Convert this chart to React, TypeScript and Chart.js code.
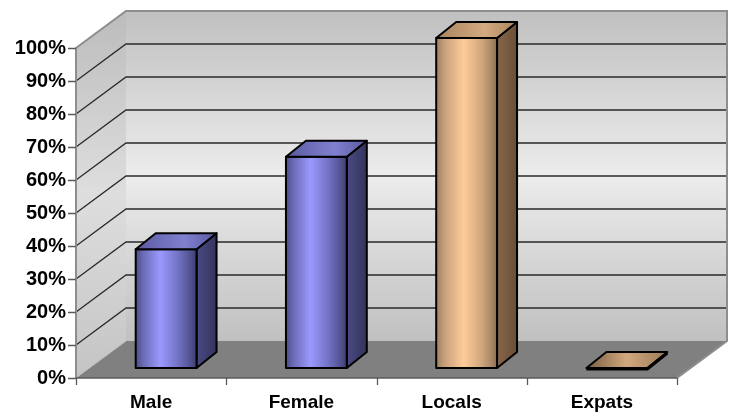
import React, { useEffect, useRef } from "react";
import { Chart, registerables } from "chart.js";

Chart.register(...registerables);

const categories = ["Male", "Female", "Locals", "Expats"];
const values = [36, 64, 100, 0];
const yTickValues = [0, 10, 20, 30, 40, 50, 60, 70, 80, 90, 100];

// styling (not data)
const themes = ["blue", "blue", "tan", "tan"];
const DEPTH = { x: 50, y: -37 };
const BAR_OFF = { x: 15, y: -10 };
const BAR_DEPTH = { x: 20, y: -16 };
const YFONT = { family: "'Liberation Sans', Arial, sans-serif", size: 20, weight: "bold" as const };
const XFONT = { family: "'Liberation Sans', Arial, sans-serif", size: 19, weight: "bold" as const };

const palettes: Record<string, any> = {
  blue: {
    front: [[0, "#4c4c88"], [0.12, "#6a6ab4"], [0.4, "#9a9aff"], [0.7, "#7272c4"], [0.92, "#4e4e8c"], [1, "#3c3c6c"]],
    side: ["#4a4a84", "#34345c"],
    top: ["#5a5aa0", "#8080d0"],
  },
  tan: {
    front: [[0, "#a08060"], [0.15, "#c9a27c"], [0.45, "#ffcc99"], [0.75, "#d0a67c"], [0.92, "#a68464"], [1, "#8c6c4c"]],
    side: ["#86664a", "#6a4e36"],
    top: ["#a8845e", "#d4aa80"],
  },
};

const threeD = {
  id: "threeD",
  beforeDatasetsDraw(chart: any) {
    const { ctx, chartArea } = chart;
    const ys = chart.scales.y;
    const L = chartArea.left, R = chartArea.right;
    const T = ys.getPixelForValue(100), B = ys.getPixelForValue(0);
    const dx = DEPTH.x, dy = DEPTH.y;
    ctx.save();
    // back wall
    let g = ctx.createLinearGradient(0, T + dy, 0, B + dy);
    g.addColorStop(0, "#c0c0c0");
    g.addColorStop(0.5, "#ececec");
    g.addColorStop(1, "#c0c0c0");
    ctx.fillStyle = g;
    ctx.fillRect(L + dx, T + dy, R - L, B - T);
    // left wall
    g = ctx.createLinearGradient(0, T + dy, 0, B);
    g.addColorStop(0, "#bcbcbc");
    g.addColorStop(0.5, "#dedede");
    g.addColorStop(1, "#c4c4c4");
    ctx.fillStyle = g;
    ctx.beginPath();
    ctx.moveTo(L, T);
    ctx.lineTo(L + dx, T + dy);
    ctx.lineTo(L + dx, B + dy);
    ctx.lineTo(L, B);
    ctx.closePath();
    ctx.fill();
    // gridlines
    ctx.strokeStyle = "#2a2a2a";
    ctx.lineWidth = 1.3;
    for (const v of yTickValues) {
      if (v === 0 || v === 100) continue;
      const y = ys.getPixelForValue(v);
      ctx.beginPath();
      ctx.moveTo(L, y);
      ctx.lineTo(L + dx, y + dy);
      ctx.lineTo(R + dx, y + dy);
      ctx.stroke();
    }
    // floor
    ctx.fillStyle = "#808080";
    ctx.beginPath();
    ctx.moveTo(L, B);
    ctx.lineTo(L + dx, B + dy);
    ctx.lineTo(R + dx, B + dy);
    ctx.lineTo(R, B);
    ctx.closePath();
    ctx.fill();
    // light diagonal edge of floor
    ctx.strokeStyle = "#bdbdbd";
    ctx.lineWidth = 1;
    ctx.beginPath();
    ctx.moveTo(L + 1, B - 1);
    ctx.lineTo(L + dx, B + dy);
    ctx.stroke();
    // wall outlines
    ctx.strokeStyle = "#8e8e8e";
    ctx.lineWidth = 2;
    ctx.beginPath();
    ctx.moveTo(L, B);
    ctx.lineTo(L, T);
    ctx.lineTo(L + dx, T + dy);
    ctx.lineTo(R + dx, T + dy);
    ctx.lineTo(R + dx, B + dy);
    ctx.lineTo(R, B);
    ctx.stroke();
    // front floor edge and ticks
    ctx.strokeStyle = "#5a5a5a";
    ctx.lineWidth = 1.3;
    ctx.beginPath();
    ctx.moveTo(L, B);
    ctx.lineTo(R, B);
    ctx.stroke();
    const n = categories.length;
    ctx.beginPath();
    for (let i = 0; i <= n; i++) {
      const x = Math.round(L + ((R - L) * i) / n) + 0.5;
      ctx.moveTo(x, B);
      ctx.lineTo(x, B + 7);
    }
    for (const v of yTickValues) {
      const y = Math.round(ys.getPixelForValue(v)) + 0.5;
      ctx.moveTo(L - 8, y);
      ctx.lineTo(L, y);
    }
    ctx.stroke();
    ctx.restore();
  },
  afterDatasetsDraw(chart: any) {
    const { ctx } = chart;
    const meta = chart.getDatasetMeta(0);
    ctx.save();
    meta.data.forEach((el: any, i: number) => {
      const p = palettes[themes[i]];
      const w = el.width;
      const l = el.x - w / 2 + BAR_OFF.x;
      const r = el.x + w / 2 + BAR_OFF.x;
      const t = el.y + BAR_OFF.y;
      const b = el.base + BAR_OFF.y;
      const ddx = BAR_DEPTH.x, ddy = BAR_DEPTH.y;
      ctx.lineJoin = "round";
      ctx.strokeStyle = "#000";
      ctx.lineWidth = 2;
      if (b - t > 0.5) {
        // side face
        let g = ctx.createLinearGradient(r, 0, r + ddx, 0);
        g.addColorStop(0, p.side[0]);
        g.addColorStop(1, p.side[1]);
        ctx.fillStyle = g;
        ctx.beginPath();
        ctx.moveTo(r, t);
        ctx.lineTo(r + ddx, t + ddy);
        ctx.lineTo(r + ddx, b + ddy);
        ctx.lineTo(r, b);
        ctx.closePath();
        ctx.fill();
        ctx.stroke();
        // front face
        g = ctx.createLinearGradient(l, 0, r, 0);
        for (const [o, c] of p.front) g.addColorStop(o, c);
        ctx.fillStyle = g;
        ctx.fillRect(l, t, r - l, b - t);
        ctx.strokeRect(l, t, r - l, b - t);
      }
      // top face
      const g2 = ctx.createLinearGradient(l, 0, r + ddx, 0);
      if (b - t > 0.5) {
        g2.addColorStop(0, p.top[0]);
        g2.addColorStop(0.6, p.top[1]);
        g2.addColorStop(1, p.top[0]);
      } else {
        g2.addColorStop(0, "#7a5e44");
        g2.addColorStop(0.5, "#d2a87e");
        g2.addColorStop(1, "#9a7a58");
      }
      ctx.fillStyle = g2;
      ctx.beginPath();
      ctx.moveTo(l, t);
      ctx.lineTo(l + ddx, t + ddy);
      ctx.lineTo(r + ddx, t + ddy);
      ctx.lineTo(r, t);
      ctx.closePath();
      ctx.fill();
      ctx.stroke();
      if (b - t <= 0.5) {
        ctx.lineWidth = 3;
        ctx.beginPath();
        ctx.moveTo(l, t + 1);
        ctx.lineTo(r, t + 1);
        ctx.lineTo(r + ddx, t + ddy + 1);
        ctx.stroke();
      }
    });
    ctx.restore();
  },
};

export default function App() {
  const ref = useRef<HTMLCanvasElement>(null);
  useEffect(() => {
    if (!ref.current) return;
    const chart = new Chart(ref.current, {
      type: "bar",
      data: {
        labels: categories,
        datasets: [
          {
            data: values,
            backgroundColor: "rgba(0,0,0,0)",
            borderWidth: 0,
            barPercentage: 0.405,
            categoryPercentage: 1,
          },
        ],
      },
      options: {
        animation: false,
        responsive: false,
        events: [],
        layout: { padding: { top: 48, right: 57, left: 0, bottom: 0 } },
        plugins: { legend: { display: false }, tooltip: { enabled: false } },
        scales: {
          x: {
            grid: { display: false, drawTicks: false },
            border: { display: false },
            ticks: { font: XFONT, color: "#000", padding: 13 },
            afterFit: (s: any) => {
              s.height = 37;
            },
          },
          y: {
            min: 0,
            max: 100,
            grid: { display: false, drawTicks: false },
            border: { display: false },
            ticks: {
              stepSize: 10,
              font: YFONT,
              color: "#000",
              padding: 10,
              callback: (v: any) => v + "%",
            },
            afterFit: (s: any) => {
              s.width = 76;
            },
          },
        },
      },
      plugins: [threeD],
    });
    return () => chart.destroy();
  }, []);
  return (
    <div style={{ position: "fixed", left: 0, top: 0, width: 734, height: 415, background: "#fff" }}>
      <canvas ref={ref} width={734} height={415} style={{ display: "block" }} />
    </div>
  );
}
